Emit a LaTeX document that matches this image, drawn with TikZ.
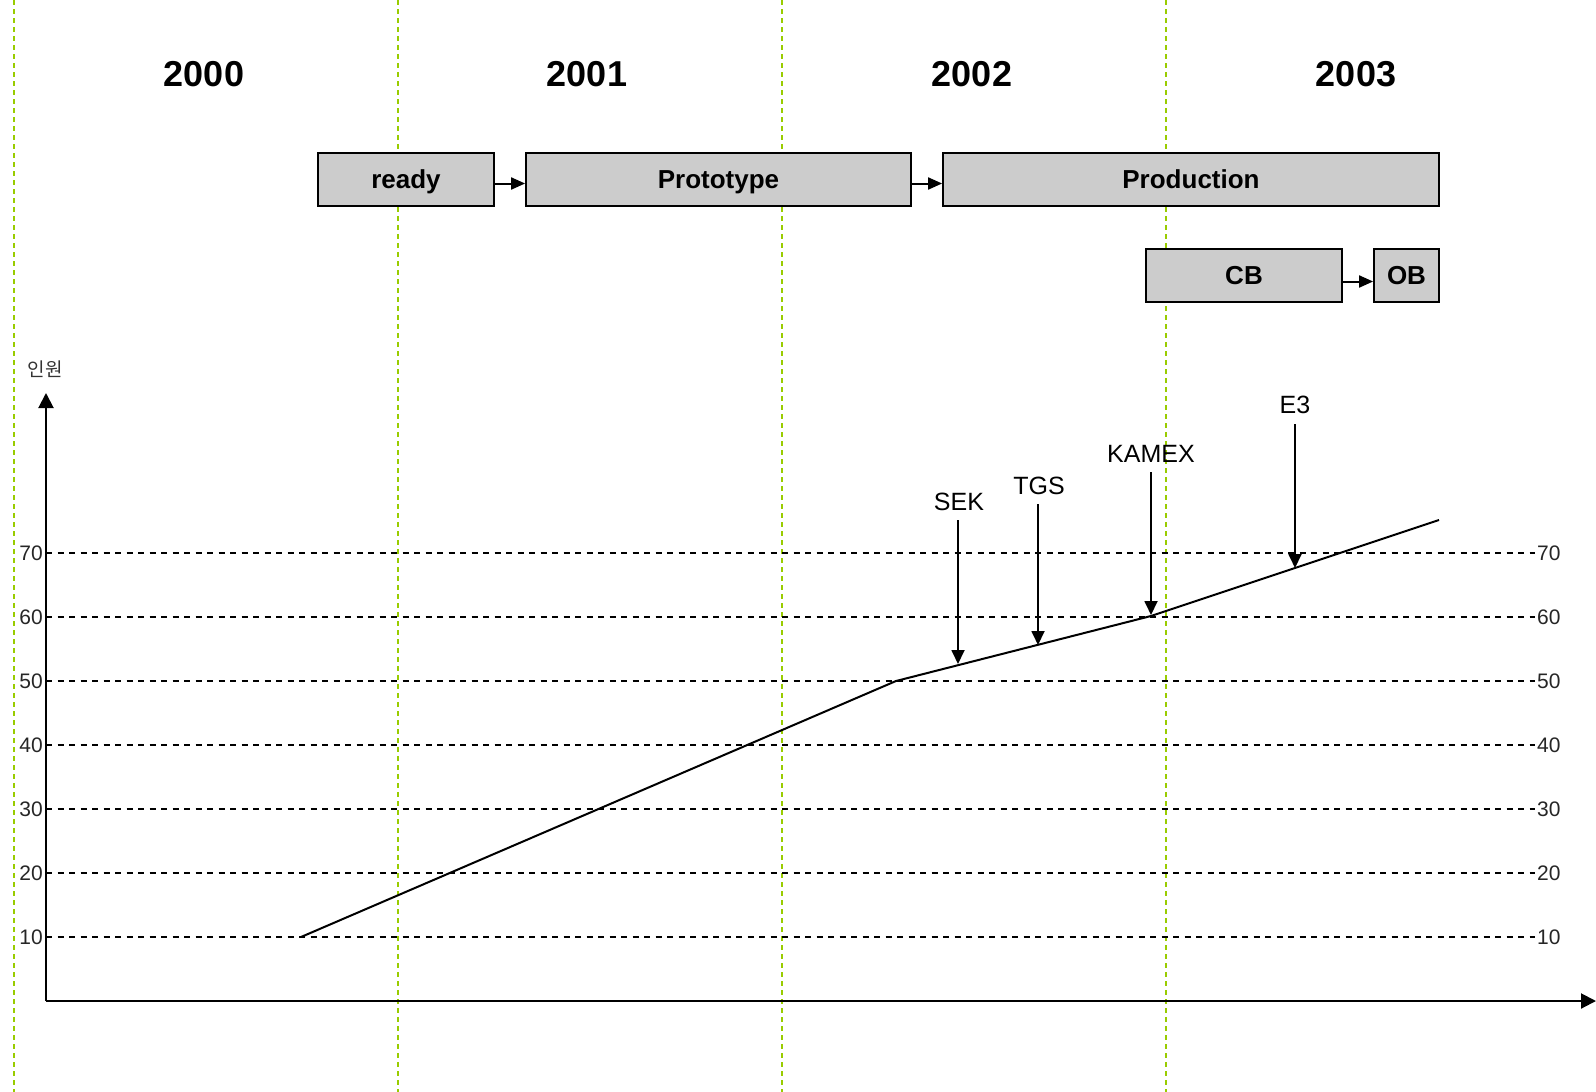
\documentclass[tikz,border=0pt]{standalone}
\usepackage{fontspec}
\setmainfont{Liberation Sans}
\newfontfamily\krfont{Noto Sans CJK KR}
\usetikzlibrary{arrows.meta}
\definecolor{gridgreen}{HTML}{99CC00}
\definecolor{boxgray}{HTML}{CCCCCC}
\tikzset{
  yearline/.style={gridgreen, line width=1.6pt, dash pattern=on 5pt off 4pt},
  levelline/.style={black, line width=1.6pt, dash pattern=on 6pt off 5.5pt},
  phasebox/.style={draw=black, fill=boxgray, line width=1.8pt, inner sep=0pt,
    minimum height=53pt, font=\fontsize{26}{30}\selectfont\bfseries,
    text height=18.6pt, text depth=0pt},
  yearlbl/.style={font=\fontsize{36}{40}\selectfont\bfseries},
  numlbl/.style={font=\fontsize{21}{23}\selectfont, text=black!85, inner sep=0pt},
  firmlbl/.style={font=\fontsize{25}{29}\selectfont, inner sep=0pt},
  boxarrow/.style={line width=2pt, -{Triangle[length=14pt,width=12pt]}},
  axisarrow/.style={line width=2pt, -{Triangle[length=15pt,width=15pt]}},
  ptrarrow/.style={line width=1.8pt, -{Triangle[length=14pt,width=13pt]}},
  curve/.style={line width=2pt}
}
\begin{document}
\begin{tikzpicture}[x=1pt,y=-1pt]
\useasboundingbox (0,0) rectangle (1596,1092);

% green year separators
\foreach \gx in {14,398,782,1166}
  \draw[yearline] (\gx,0) -- (\gx,1092);

% year labels
\node[yearlbl] (y2000) at (204,74) {2000};
\node[yearlbl] (y2001) at (587,74) {2001};
\node[yearlbl] (y2002) at (972,74) {2002};
\node[yearlbl] (y2003) at (1356,74) {2003};

% phase boxes
\node[phasebox, minimum width=176pt] (ready) at (406,179.5) {ready};
\node[phasebox, minimum width=385pt] (proto) at (718.5,179.5) {Prototype};
\node[phasebox, minimum width=496pt] (prod) at (1191,179.5) {Production};
\node[phasebox, minimum width=196pt] (cb) at (1244,275.5) {CB};
\node[phasebox, minimum width=65pt] (ob) at (1406.5,275.5) {OB};

\draw[boxarrow] ([yshift=-4pt]ready.east) -- ([yshift=-4pt]proto.west);
\draw[boxarrow] ([yshift=-4pt]proto.east) -- ([yshift=-4pt]prod.west);
\draw[boxarrow] ([yshift=-6pt]cb.east) -- ([yshift=-6pt]ob.west);

% dashed level lines and labels
\foreach \v/\ly in {70/553,60/617,50/681,40/745,30/809,20/873,10/937}{
  \draw[levelline] (46,\ly) -- (1535,\ly);
  \node[numlbl, anchor=east] (l\v) at (43,\ly) {\v};
  \node[numlbl, anchor=west] (r\v) at (1537,\ly) {\v};
}

% axes
\coordinate (origin) at (46,1001);
\coordinate (ytop) at (46,393);
\coordinate (xend) at (1596,1001);
\draw[axisarrow] (origin) -- (ytop);
\draw[axisarrow] (origin) -- (xend);
\node[font=\krfont\fontsize{19}{21}\selectfont, text=black!80] (unit) at (45,369) {인원};

% staffing curve
\coordinate (p0) at (301,937);
\coordinate (p1) at (896,681);
\coordinate (p2) at (1151,616);
\coordinate (p3) at (1439,520);
\draw[curve] (p0) -- (p1) -- (p2) -- (p3);

% milestones
\node[firmlbl] (sek) at (959,502) {SEK};
\node[firmlbl] (tgs) at (1039,486) {TGS};
\node[firmlbl] (kamex) at (1151,454) {KAMEX};
\node[firmlbl] (e3) at (1295,405) {E3};
\coordinate (sekt) at (958,664);
\coordinate (tgst) at (1038,645);
\coordinate (kamext) at (1151,615);
\coordinate (e3t) at (1295,568);
\draw[ptrarrow] (958,520) -- (sekt);
\draw[ptrarrow] (1038,504) -- (tgst);
\draw[ptrarrow] (1151,472) -- (kamext);
\draw[ptrarrow] (1295,424) -- (e3t);
\end{tikzpicture}
\end{document}
